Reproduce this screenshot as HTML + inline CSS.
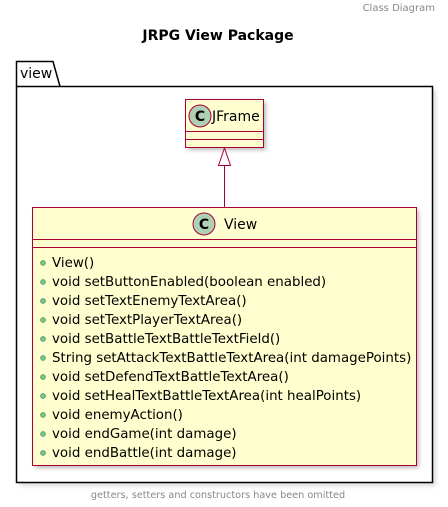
<!DOCTYPE html><html><head><style>body{margin:0;background:#fff}svg{display:block}</style></head><body>
<svg width="448" height="507" xmlns="http://www.w3.org/2000/svg" font-family="DejaVu Sans, Liberation Sans, sans-serif">
<defs><filter id="sh" x="-10%" y="-10%" width="130%" height="130%"><feGaussianBlur stdDeviation="2"/></filter></defs>
<text x="435" y="11" font-size="10" fill="#888" text-anchor="end">Class Diagram</text>
<text x="218" y="40" font-size="14" font-weight="bold" text-anchor="middle">JRPG View Package</text>
<rect x="20" y="90" width="416" height="396" fill="#ddd" filter="url(#sh)"/>
<path d="M16.5,86.5 V61.5 H53 L60,86.5" fill="#fff" stroke="#000" stroke-width="1.5"/>
<rect x="16.5" y="86.5" width="416" height="396" fill="#fff" stroke="#000" stroke-width="1.5"/>
<text x="20" y="78" font-size="14">view</text>
<rect x="188" y="102" width="78" height="48" fill="#bbb" filter="url(#sh)"/>
<rect x="185.5" y="99.5" width="78" height="48" fill="#fefece" stroke="#a80036"/>
<line x1="185.5" y1="131.5" x2="263.5" y2="131.5" stroke="#a80036"/>
<line x1="185.5" y1="139.5" x2="263.5" y2="139.5" stroke="#a80036"/>
<circle cx="200" cy="116" r="11" fill="#add1b2" stroke="#a80036"/>
<text x="200" y="121" font-size="14" font-weight="bold" text-anchor="middle">C</text>
<text x="212" y="121" font-size="14">JFrame</text>
<line x1="224.5" y1="166" x2="224.5" y2="207" stroke="#a80036"/>
<polygon points="224.5,148 218.5,165.5 230.5,165.5" fill="#fff" stroke="#a80036"/>
<rect x="35" y="210" width="384" height="258" fill="#bbb" filter="url(#sh)"/>
<rect x="32.5" y="207.5" width="384" height="258" fill="#fefece" stroke="#a80036"/>
<line x1="32.5" y1="239.5" x2="416.5" y2="239.5" stroke="#a80036"/>
<line x1="32.5" y1="247.5" x2="416.5" y2="247.5" stroke="#a80036"/>
<circle cx="204" cy="224" r="11" fill="#add1b2" stroke="#a80036"/>
<text x="204" y="229" font-size="14" font-weight="bold" text-anchor="middle">C</text>
<text x="224" y="229" font-size="14">View</text>
<g font-size="13.4" fill="#000">
<g fill="#84be84" stroke="#038048" stroke-width="0.5">
<circle cx="43" cy="263" r="2.5"/><circle cx="43" cy="282" r="2.5"/><circle cx="43" cy="301" r="2.5"/><circle cx="43" cy="320" r="2.5"/><circle cx="43" cy="339" r="2.5"/><circle cx="43" cy="358" r="2.5"/><circle cx="43" cy="377" r="2.5"/><circle cx="43" cy="396" r="2.5"/><circle cx="43" cy="415" r="2.5"/><circle cx="43" cy="434" r="2.5"/><circle cx="43" cy="453" r="2.5"/>
</g>
<text x="52" y="267">View()</text>
<text x="52" y="286">void setButtonEnabled(boolean enabled)</text>
<text x="52" y="305">void setTextEnemyTextArea()</text>
<text x="52" y="324">void setTextPlayerTextArea()</text>
<text x="52" y="343">void setBattleTextBattleTextField()</text>
<text x="52" y="362">String setAttackTextBattleTextArea(int damagePoints)</text>
<text x="52" y="381">void setDefendTextBattleTextArea()</text>
<text x="52" y="400">void setHealTextBattleTextArea(int healPoints)</text>
<text x="52" y="419">void enemyAction()</text>
<text x="52" y="438">void endGame(int damage)</text>
<text x="52" y="457">void endBattle(int damage)</text>
</g>
<text x="218" y="498" font-size="9.7" fill="#888" text-anchor="middle">getters, setters and constructors have been omitted</text>
</svg></body></html>
